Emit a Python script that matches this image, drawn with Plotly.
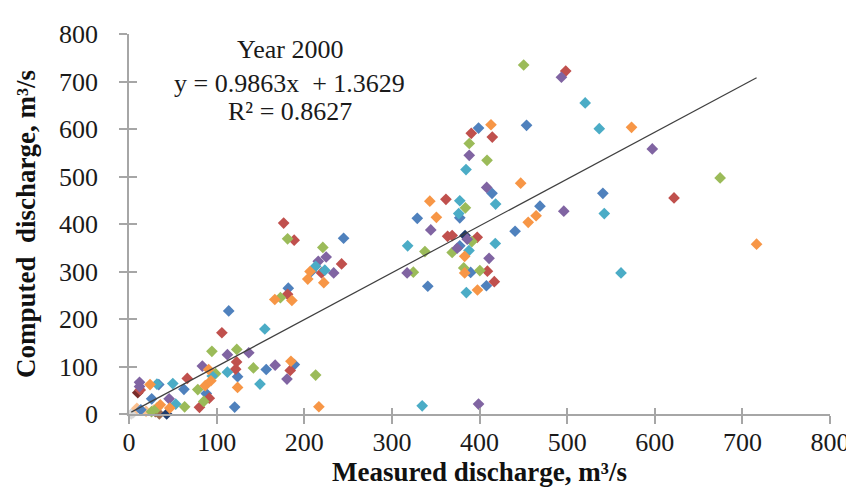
import plotly.graph_objects as go

# ---- data (measured, computed) per series ----
blue_x = [113.8, 123.9, 156.6, 34, 62.7, 88.2, 120.6, 25.9, 13.5, 181.8, 208, 244.9, 188.7, 329, 377.5, 398.9, 414.3, 453.7, 469, 440.6, 377.5, 389.9, 407.9, 341, 540.8]
blue_y = [217, 78.5, 93.7, 62, 52, 43, 14.6, 32, 9, 265, 300, 370, 104, 412, 413, 602, 464.6, 607.7, 437.5, 384.7, 354, 298, 270, 269, 464.6]

red_x = [106, 122.8, 121.7, 12.8, 66.5, 91.6, 80.4, 176.5, 188.5, 181, 219.7, 242.6, 184, 390.6, 414.6, 361.7, 363.6, 368.8, 397.4, 409, 416.9, 498.4, 622]
red_y = [171, 109.7, 94.4, 50.7, 75, 33.3, 14, 402, 366, 252, 297, 316, 91.7, 591, 583, 452, 374, 375.6, 372, 300.7, 278.5, 722, 455]

green_x = [94.6, 123, 142, 98.8, 78.5, 85.3, 63.5, 31.9, 25.7, 181, 172.8, 221.2, 213, 388.3, 408.6, 383.9, 391.3, 368.8, 337.7, 324.5, 382, 400.4, 450.4, 674.6]
green_y = [132, 136, 97, 85, 51.4, 26.4, 15.2, 12.5, 4.8, 368.8, 245, 350.7, 82, 569.5, 534, 434, 363, 340, 342, 298.6, 307.6, 302, 734.7, 497]

purple_x = [112.3, 136.7, 83.7, 12, 12, 45.8, 166.8, 180.3, 216, 225, 233.6, 388.3, 408.2, 344.4, 386, 374.5, 410.9, 317.4, 398.9, 493.5, 597.2, 496.2]
purple_y = [125, 129, 101, 66.7, 57.7, 32, 102.8, 73.6, 321.5, 330.5, 297, 544.5, 477, 387.5, 368, 349, 327.7, 297, 20.8, 709, 558, 427]

aqua_x = [155, 112.3, 149.5, 31.9, 50, 95, 53.3, 213, 223.5, 384.6, 418.4, 377.5, 376.3, 388, 318, 418, 385, 334.6, 520.6, 536.7, 542.4, 561.5]
aqua_y = [179, 88, 63, 63, 64, 80, 20.8, 311, 302.7, 514.6, 442, 449, 422, 344, 354, 359, 255.6, 17.3, 654.8, 600.7, 422, 297]

orange_x = [90.9, 123.9, 24, 87, 93.5, 35.7, 46.5, 206.6, 204, 222.3, 166.4, 185.9, 184.8, 216.7, 413.1, 343.3, 350.8, 383.1, 383.1, 397.7, 447, 455.6, 464.6, 573.5, 716.2]
orange_y = [93.7, 56, 62, 59.7, 70, 19.4, 12.5, 300, 284, 276.4, 241, 239, 111, 15.3, 609, 448, 414, 332, 297, 261, 486, 403.5, 417.4, 603.5, 357.6]

gray_x = [2.6, 5]
gray_y = [0, 3]
peach_x = [19.5, 9, 28]
peach_y = [5.6, 12, 8]
brown_x = [34.6, 30]
brown_y = [0, 5]
navy_x = [43, 383.5]
navy_y = [0, 375.6]
darkred_x = [10]
darkred_y = [45]

slope = 0.9863
intercept = 1.3629
eq_lines = ["Year 2000", "y = 0.9863x  + 1.3629", "R² = 0.8627"]
ticks = [0, 100, 200, 300, 400, 500, 600, 700, 800]

series = [
    (gray_x, gray_y, "#D9D9D9"),
    (peach_x, peach_y, "#FAC090"),
    (brown_x, brown_y, "#9C6B4E"),
    (navy_x, navy_y, "#1F3B6B"),
    (darkred_x, darkred_y, "#772C2A"),
    (blue_x, blue_y, "#4F81BD"),
    (red_x, red_y, "#C0504D"),
    (green_x, green_y, "#9BBB59"),
    (purple_x, purple_y, "#8064A2"),
    (aqua_x, aqua_y, "#4BACC6"),
    (orange_x, orange_y, "#F79646"),
]

fig = go.Figure()
for xs, ys, c in series:
    fig.add_trace(go.Scatter(x=xs, y=ys, mode="markers",
                             marker=dict(symbol="diamond", size=9, color=c, line=dict(width=0)),
                             cliponaxis=False, showlegend=False))

all_x = [v for s in series for v in s[0]]
xmin, xmax = min(all_x), max(all_x)
fig.add_trace(go.Scatter(x=[xmin, xmax], y=[slope * xmin + intercept, slope * xmax + intercept],
                         mode="lines", line=dict(color="#404040", width=1.2), showlegend=False))

# invisible trace for overlay axes (inside half of cross ticks)
fig.add_trace(go.Scatter(x=[0], y=[0], xaxis="x2", yaxis="y2", mode="markers",
                         marker=dict(opacity=0), showlegend=False, hoverinfo="skip"))

font_fam = "Liberation Serif"
axis_col = "#A6A6A6"
txt_col = "#1a1a1a"

fig.update_layout(
    width=854, height=493,
    margin=dict(l=121, r=23, t=22, b=87),
    paper_bgcolor="white", plot_bgcolor="white",
    font=dict(family=font_fam, size=26, color=txt_col),
    xaxis=dict(range=[0, 800], tickvals=ticks, showgrid=False, zeroline=False,
               showline=True, linecolor=axis_col, linewidth=1.5,
               ticks="outside", ticklen=8, tickcolor=axis_col, tickwidth=1.5,
               ticklabelstandoff=-4,
               tickfont=dict(family=font_fam, size=26, color=txt_col),
               title=dict(text="<b>Measured discharge, m³/s</b>", standoff=2,
                          font=dict(family=font_fam, size=27, color="#111"))),
    yaxis=dict(range=[0, 800], tickvals=ticks, showgrid=False, zeroline=False,
               showline=True, linecolor=axis_col, linewidth=1.5,
               ticks="outside", ticklen=8, tickcolor=axis_col, tickwidth=1.5,
               ticklabelstandoff=16,
               tickfont=dict(family=font_fam, size=26, color=txt_col),
               title=dict(text="<b>Computed  discharge, m³/s</b>", standoff=16,
                          font=dict(family=font_fam, size=27, color="#111"))),
    xaxis2=dict(range=[0, 800], tickvals=ticks, overlaying="x", side="bottom",
                showgrid=False, zeroline=False, showline=False, showticklabels=False,
                ticks="inside", ticklen=6, tickcolor=axis_col, tickwidth=1.5),
    yaxis2=dict(range=[0, 800], tickvals=ticks, overlaying="y", side="left",
                showgrid=False, zeroline=False, showline=False, showticklabels=False,
                ticks="inside", ticklen=8, tickcolor=axis_col, tickwidth=1.5),
)

ann_y = [766.7, 695.8, 637.5]
for txt, yy in zip(eq_lines, ann_y):
    fig.add_annotation(x=183.7, y=yy, xref="x", yref="y", text=txt, showarrow=False,
                       font=dict(family=font_fam, size=26, color=txt_col),
                       xanchor="center", yanchor="middle")

fig.write_html("out.html")
